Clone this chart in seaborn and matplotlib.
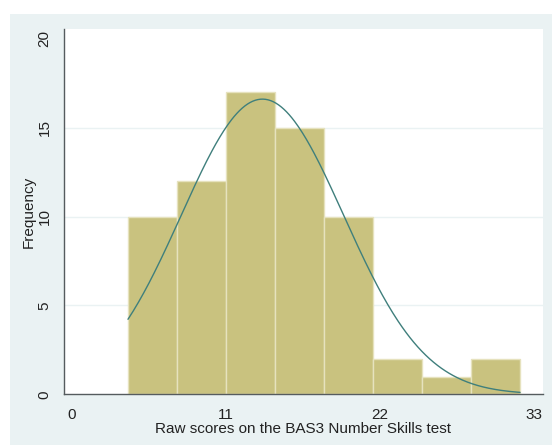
import numpy as np
import matplotlib
matplotlib.use("Agg")
import matplotlib.pyplot as plt
from matplotlib.patches import Rectangle
import seaborn as sns

# Histogram of BAS3 Number Skills raw scores (bins)
bin_edges = [4, 7.5, 11, 14.5, 18, 21.5, 25, 28.5, 32]
counts = [10, 12, 17, 15, 10, 2, 1, 2]
# fitted normal overlay parameters (estimated from the curve)
score_mean = 13.6
score_sd = 5.8
x_ticks = [0, 11, 22, 33]
y_ticks = [0, 5, 10, 15, 20]

BAR = "#C9C27F"
BAR_EDGE = "#E6E2BE"
CURVE = "#3F7F7C"
BG = "#EAF2F3"
AXIS = "#555B5E"
TEXT = "#222222"

sns.set_style("white")
plt.rcParams["font.family"] = ["Liberation Sans", "DejaVu Sans"]

W, H = 552, 446
fig = plt.figure(figsize=(W / 100, H / 100), dpi=100, facecolor="white")
fig.patches.append(Rectangle((10 / W, 1 / H), 1 - 10 / W, 1 - 15 / H,
                             transform=fig.transFigure, facecolor=BG,
                             edgecolor="none", zorder=-10))
ax = fig.add_axes([64 / W, 51.7 / H, 478.5 / W, 365 / H])
ax.set_facecolor("white")

centers = [(a + b) / 2 for a, b in zip(bin_edges[:-1], bin_edges[1:])]
sns.histplot(x=centers, weights=counts, bins=bin_edges, ax=ax,
             color=BAR, edgecolor=BAR_EDGE, linewidth=1.0, alpha=1.0, zorder=2)

# normal density scaled to frequency (N * bin width)
n_total = sum(counts)
width = bin_edges[1] - bin_edges[0]
xs = np.linspace(bin_edges[0], bin_edges[-1], 300)
ys = n_total * width * np.exp(-0.5 * ((xs - score_mean) / score_sd) ** 2) / (score_sd * np.sqrt(2 * np.pi))
sns.lineplot(x=xs, y=ys, ax=ax, color=CURVE, linewidth=1.0, zorder=3)

ax.set_xlim(-0.57, 33.6)
ax.set_ylim(0, 20.54)
ax.set_xticks(x_ticks)
ax.set_yticks(y_ticks)
ax.set_yticklabels([str(t) for t in y_ticks], rotation=90, va="center")

for t in y_ticks[1:-1]:
    ax.axhline(t, color=BG, linewidth=1.0, zorder=1)

for side in ["top", "right"]:
    ax.spines[side].set_visible(False)
for side in ["left", "bottom"]:
    ax.spines[side].set_color(AXIS)
    ax.spines[side].set_linewidth(1.0)

ax.tick_params(axis="both", direction="out", length=6, width=1, color=AXIS,
               labelsize=11, labelcolor=TEXT)
ax.tick_params(axis="x", pad=4)
ax.tick_params(axis="y", pad=3)
ax.set_xlabel("Raw scores on the BAS3 Number Skills test", fontsize=11,
              color=TEXT, labelpad=0)
ax.set_ylabel("Frequency", fontsize=11, color=TEXT, labelpad=1)

fig.savefig("out.png", dpi=100, facecolor="white")
